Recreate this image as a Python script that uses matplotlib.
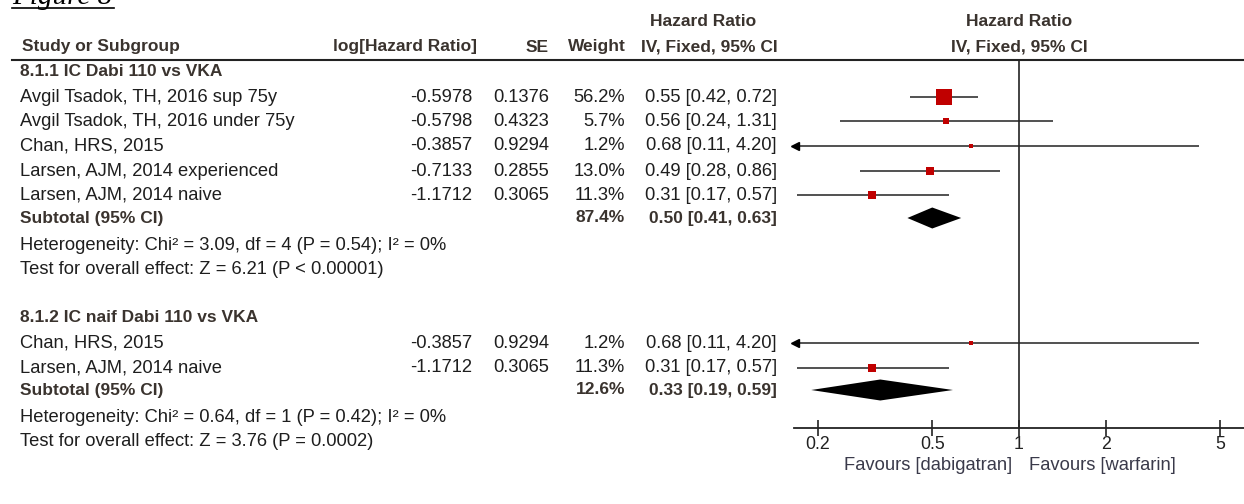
import numpy as np
import matplotlib
matplotlib.use("Agg")
import matplotlib.pyplot as plt

plt.rcParams['font.family'] = ['Liberation Sans', 'DejaVu Sans']

# ---- datos: subgrupo 8.1.1 ----
estudios1 = ["Avgil Tsadok, TH, 2016 sup 75y", "Avgil Tsadok, TH, 2016 under 75y",
             "Chan, HRS, 2015", "Larsen, AJM, 2014 experienced", "Larsen, AJM, 2014 naive"]
loghr1 = [-0.5978, -0.5798, -0.3857, -0.7133, -1.1712]
se1 = [0.1376, 0.4323, 0.9294, 0.2855, 0.3065]
peso1 = [56.2, 5.7, 1.2, 13.0, 11.3]
hr1 = [0.55, 0.56, 0.68, 0.49, 0.31]
inf1 = [0.42, 0.24, 0.11, 0.28, 0.17]
sup1 = [0.72, 1.31, 4.20, 0.86, 0.57]
sub1 = [87.4, 0.50, 0.41, 0.63]
het1 = "Heterogeneity: Chi\u00b2 = 3.09, df = 4 (P = 0.54); I\u00b2 = 0%"
test1 = "Test for overall effect: Z = 6.21 (P < 0.00001)"

# ---- datos: subgrupo 8.1.2 ----
estudios2 = ["Chan, HRS, 2015", "Larsen, AJM, 2014 naive"]
loghr2 = [-0.3857, -1.1712]
se2 = [0.9294, 0.3065]
peso2 = [1.2, 11.3]
hr2 = [0.68, 0.31]
inf2 = [0.11, 0.17]
sup2 = [4.20, 0.57]
sub2 = [12.6, 0.33, 0.19, 0.59]
het2 = "Heterogeneity: Chi\u00b2 = 0.64, df = 1 (P = 0.42); I\u00b2 = 0%"
test2 = "Test for overall effect: Z = 3.76 (P = 0.0002)"

ticks = [0.2, 0.5, 1, 2, 5]
tick_labels = ["0.2", "0.5", "1", "2", "5"]

# filas (en pixeles desde arriba)
filas1 = [97, 121, 146, 171, 195]
fila_sub1 = 218
filas2 = [343, 368]
fila_sub2 = 390

W, H = 1244, 504
fig = plt.figure(figsize=(W / 100, H / 100), dpi=100)
ax = fig.add_axes([0, 0, 1, 1])
ax.set_xlim(0, W)
ax.set_ylim(H, 0)
ax.axis('off')

XMIN, XMAX = 0.1656, 6.04
axf = fig.add_axes([794 / W, 0, (W - 794) / W, 1])
axf.set_xscale('log')
axf.set_xlim(XMIN, XMAX)
axf.set_ylim(H, 0)
axf.patch.set_alpha(0)
for s in ['top', 'left', 'right']:
    axf.spines[s].set_visible(False)
axf.spines['bottom'].set_position(('data', 428))
axf.spines['bottom'].set_linewidth(1.3)
axf.spines['bottom'].set_color('#222222')
axf.set_yticks([])
axf.set_xticks(ticks)
axf.set_xticklabels(tick_labels)
axf.xaxis.set_minor_locator(matplotlib.ticker.NullLocator())
axf.tick_params(axis='x', direction='inout', length=11, width=1.2, pad=0,
                labelsize=12.8, colors='#222222')

fs = 13.2     # texto normal
fsb = 12.5    # texto en negrita
negro = '#1e1e1e'
cab = '#3a332e'

# titulo recortado arriba
ax.text(12, 4, "Figure 8", family=['Liberation Serif', 'DejaVu Serif'], style='italic',
        fontsize=21, color='black', va='baseline', ha='left')
ax.plot([12, 114], [8, 8], color='black', lw=1.2)

# cabeceras
ax.text(703, 22, "Hazard Ratio", fontsize=fsb, fontweight='bold', color=cab, ha='center', va='center')
ax.text(1019, 22, "Hazard Ratio", fontsize=fsb, fontweight='bold', color=cab, ha='center', va='center')
ax.text(22, 47, "Study or Subgroup", fontsize=fsb, fontweight='bold', color=cab, ha='left', va='center')
ax.text(477, 47, "log[Hazard Ratio]", fontsize=fsb, fontweight='bold', color=cab, ha='right', va='center')
ax.text(549, 47, "SE", fontsize=fsb, fontweight='bold', color=cab, ha='right', va='center')
ax.text(626, 47, "Weight", fontsize=fsb, fontweight='bold', color=cab, ha='right', va='center')
ax.text(778, 47, "IV, Fixed, 95% CI", fontsize=fsb, fontweight='bold', color=cab, ha='right', va='center')
ax.text(1019, 47, "IV, Fixed, 95% CI", fontsize=fsb, fontweight='bold', color=cab, ha='center', va='center')
ax.plot([12, W], [60, 60], color='#222222', lw=1.5)

# linea de no efecto
axf.vlines(1, 60, 428, color='#222222', lw=1.2)


def dibujar_grupo(titulo, y_tit, filas, estudios, loghr, se, peso, hr, inf, sup, fila_sub, sub, het, test):
    ax.text(20, y_tit, titulo, fontsize=fsb, fontweight='bold', color=cab, ha='left', va='center')
    for i, y in enumerate(filas):
        ax.text(20, y, estudios[i], fontsize=fs, color=negro, ha='left', va='center')
        ax.text(472, y, "%.4f" % loghr[i], fontsize=fs, color=negro, ha='right', va='center')
        ax.text(549, y, "%.4f" % se[i], fontsize=fs, color=negro, ha='right', va='center')
        ax.text(625, y, "%.1f%%" % peso[i], fontsize=fs, color=negro, ha='right', va='center')
        ax.text(777, y, "%.2f [%.2f, %.2f]" % (hr[i], inf[i], sup[i]), fontsize=fs, color=negro,
                ha='right', va='center')
        # intervalo de confianza
        x0 = max(inf[i], XMIN)
        x1 = min(sup[i], XMAX)
        axf.plot([x0, x1], [y, y], color='#222222', lw=1.1, solid_capstyle='butt')
        if inf[i] < XMIN:
            axf.plot([XMIN * 1.012], [y], marker='<', color='black', markersize=6, clip_on=False)
        if sup[i] > XMAX:
            axf.plot([XMAX / 1.012], [y], marker='>', color='black', markersize=6, clip_on=False)
        lado = max(1.63 * np.sqrt(peso[i]), 2.8)
        axf.plot([hr[i]], [y], marker='s', color='#c00000', markersize=lado, markeredgewidth=0)
    # subtotal
    ax.text(20, fila_sub, "Subtotal (95% CI)", fontsize=fsb, fontweight='bold', color=cab, ha='left', va='center')
    ax.text(625, fila_sub, "%.1f%%" % sub[0], fontsize=fsb, fontweight='bold', color=cab, ha='right', va='center')
    ax.text(777, fila_sub, "%.2f [%.2f, %.2f]" % (sub[1], sub[2], sub[3]), fontsize=fsb, fontweight='bold',
            color=cab, ha='right', va='center')
    axf.fill([sub[2], sub[1], sub[3], sub[1]], [fila_sub, fila_sub - 10.5, fila_sub, fila_sub + 10.5],
             color='black', lw=0)
    ax.text(20, fila_sub + 28, het, fontsize=fs, color=negro, ha='left', va='center')
    ax.text(20, fila_sub + 52, test, fontsize=fs, color=negro, ha='left', va='center')


dibujar_grupo("8.1.1 IC Dabi 110 vs VKA", 72, filas1, estudios1, loghr1, se1, peso1, hr1, inf1, sup1,
              fila_sub1, sub1, het1, test1)
dibujar_grupo("8.1.2 IC naif Dabi 110 vs VKA", 318, filas2, estudios2, loghr2, se2, peso2, hr2, inf2, sup2,
              fila_sub2, sub2, het2, test2)

# etiquetas del eje
ax.text(1012, 465, "Favours [dabigatran]", fontsize=fs, color='#3a3a4a', ha='right', va='center')
ax.text(1029, 465, "Favours [warfarin]", fontsize=fs, color='#3a3a4a', ha='left', va='center')

fig.savefig("out.png", dpi=100, facecolor='white')
